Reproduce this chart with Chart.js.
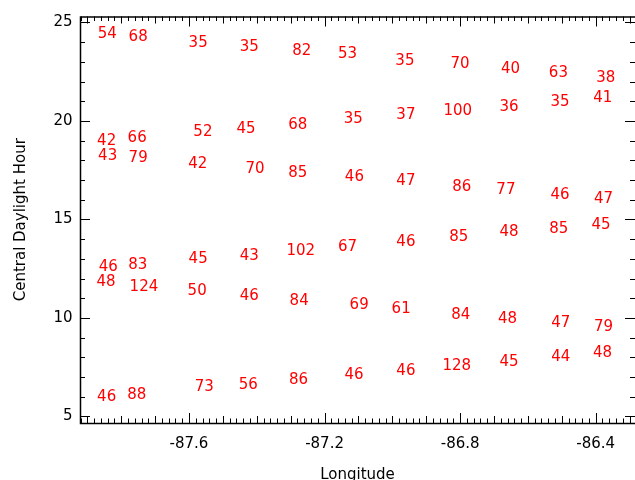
<!DOCTYPE html>
<html>
<head>
<meta charset="utf-8">
<script src="https://cdn.jsdelivr.net/npm/chart.js@4.4.1/dist/chart.umd.min.js"></script>
<style>
  html, body { margin: 0; padding: 0; background: #ffffff; }
  canvas { display: block; }
</style>
</head>
<body>
<canvas id="chart" width="635" height="480"></canvas>
<script>
// Counts written at (longitude, central daylight hour), one set of arrays per band
const lonA   = [-87.841, -87.750, -87.573, -87.422, -87.267, -87.132, -86.963, -86.800, -86.651, -86.510, -86.370];
const hourA  = [24.40, 24.27, 23.97, 23.77, 23.54, 23.37, 23.06, 22.86, 22.61, 22.44, 22.19];
const countA = [54, 68, 35, 35, 82, 53, 35, 70, 40, 63, 38];

const lonB   = [-87.843, -87.753, -87.559, -87.432, -87.279, -87.115, -86.960, -86.807, -86.656, -86.505, -86.379];
const hourB  = [19.00, 19.12, 19.42, 19.59, 19.77, 20.11, 20.31, 20.51, 20.71, 20.98, 21.15];
const countB = [42, 66, 52, 45, 68, 35, 37, 100, 36, 35, 41];

const lonC   = [-87.840, -87.750, -87.574, -87.405, -87.279, -87.112, -86.960, -86.795, -86.665, -86.505, -86.377];
const hourC  = [18.19, 18.09, 17.82, 17.54, 17.37, 17.17, 16.93, 16.65, 16.48, 16.26, 16.04];
const countC = [43, 79, 42, 70, 85, 46, 47, 86, 77, 46, 47];

const lonD   = [-87.838, -87.751, -87.573, -87.422, -87.270, -87.132, -86.960, -86.804, -86.656, -86.509, -86.384];
const hourD  = [12.58, 12.68, 12.97, 13.15, 13.40, 13.59, 13.87, 14.09, 14.34, 14.53, 14.70];
const countD = [46, 83, 45, 43, 102, 67, 46, 85, 48, 85, 45];

const lonE   = [-87.845, -87.733, -87.576, -87.422, -87.275, -87.098, -86.974, -86.798, -86.660, -86.503, -86.377];
const hourE  = [11.82, 11.57, 11.35, 11.12, 10.86, 10.63, 10.43, 10.16, 9.94, 9.72, 9.52];
const countE = [48, 124, 50, 46, 84, 69, 61, 84, 48, 47, 79];

const lonF   = [-87.843, -87.754, -87.555, -87.425, -87.277, -87.113, -86.960, -86.810, -86.656, -86.503, -86.380];
const hourF  = [5.99, 6.11, 6.48, 6.61, 6.87, 7.08, 7.32, 7.54, 7.76, 7.99, 8.21];
const countF = [46, 88, 73, 56, 86, 46, 46, 128, 45, 44, 48];

// Axis ranges and labelled ticks
const lonRange  = [-87.9216, -86.284];
const hourRange = [4.67, 25.30];
const lonTicks  = [-87.6, -87.2, -86.8, -86.4];
const hourTicks = [5, 10, 15, 20, 25];

const FONT = "'DejaVu Sans', 'Liberation Sans', sans-serif";
const LABEL_RED = '#ff0000';

const bands = [
  [lonA, hourA, countA],
  [lonB, hourB, countB],
  [lonC, hourC, countC],
  [lonD, hourD, countD],
  [lonE, hourE, countE],
  [lonF, hourF, countF]
];

const datasets = bands.map(([lons, hours, counts]) => ({
  data: lons.map((lon, i) => ({ x: lon, y: hours[i] })),
  counts: counts,
  pointRadius: 0,
  pointHoverRadius: 0,
  showLine: false
}));

// Writes each count at its point position
const countLabels = {
  id: 'countLabels',
  afterDatasetsDraw(chart) {
    const ctx = chart.ctx;
    ctx.save();
    ctx.font = '15px ' + FONT;
    ctx.fillStyle = LABEL_RED;
    ctx.textAlign = 'center';
    ctx.textBaseline = 'middle';
    chart.data.datasets.forEach((ds, di) => {
      const meta = chart.getDatasetMeta(di);
      meta.data.forEach((pt, i) => {
        ctx.fillText(String(ds.counts[i]), pt.x, pt.y);
      });
    });
    ctx.restore();
  }
};

// Box frame with inward ticks on all four sides
const frameTicks = {
  id: 'frameTicks',
  afterDraw(chart) {
    const ctx = chart.ctx;
    const xs = chart.scales.x, ys = chart.scales.y;
    const { left, right, top, bottom } = chart.chartArea;
    ctx.save();
    ctx.strokeStyle = '#000';
    ctx.lineWidth = 1;
    ctx.beginPath();
    const k0 = Math.ceil(xs.min * 50), k1 = Math.floor(xs.max * 50);
    for (let k = k0; k <= k1; k++) {
      const px = Math.round(xs.getPixelForValue(k / 50)) + 0.5;
      const len = (k % 20 === 0) ? 10 : (k % 5 === 0 ? 7 : 4.5);
      ctx.moveTo(px, bottom); ctx.lineTo(px, bottom - len);
      ctx.moveTo(px, top); ctx.lineTo(px, top + len);
    }
    const j0 = Math.ceil(ys.min), j1 = Math.floor(ys.max);
    for (let j = j0; j <= j1; j++) {
      const py = Math.round(ys.getPixelForValue(j)) + 0.5;
      const len = (j % 5 === 0) ? 10 : 5;
      ctx.moveTo(left, py); ctx.lineTo(left + len, py);
      ctx.moveTo(right, py); ctx.lineTo(right - len, py);
    }
    ctx.stroke();
    ctx.lineWidth = 1.5;
    ctx.strokeRect(left + 0.5, top + 0.5, right - left + 1, bottom - top);
    ctx.restore();
  }
};

new Chart(document.getElementById('chart'), {
  type: 'scatter',
  data: { datasets },
  options: {
    responsive: false,
    animation: false,
    devicePixelRatio: 1,
    layout: { padding: { top: 14, right: 0, bottom: 0, left: 0 } },
    plugins: {
      legend: { display: false },
      tooltip: { enabled: false }
    },
    scales: {
      x: {
        type: 'linear',
        min: lonRange[0],
        max: lonRange[1],
        afterBuildTicks: (scale) => { scale.ticks = lonTicks.map(v => ({ value: v })); },
        afterFit: (scale) => { scale.height = 57; },
        grid: { display: false, drawTicks: false },
        border: { display: false },
        ticks: {
          color: '#000',
          font: { family: FONT, size: 15 },
          padding: 12,
          maxRotation: 0,
          autoSkip: false,
          callback: (v) => v.toFixed(1)
        },
        title: {
          display: true,
          text: 'Longitude',
          color: '#000',
          font: { family: FONT, size: 15, lineHeight: 1 },
          padding: { top: 0, bottom: -3 }
        }
      },
      y: {
        type: 'linear',
        min: hourRange[0],
        max: hourRange[1],
        afterBuildTicks: (scale) => { scale.ticks = hourTicks.map(v => ({ value: v })); },
        afterFit: (scale) => { scale.width = 80; },
        grid: { display: false, drawTicks: false },
        border: { display: false },
        ticks: {
          color: '#000',
          font: { family: FONT, size: 15 },
          padding: 7.5,
          autoSkip: false,
          callback: (v) => String(v)
        },
        title: {
          display: true,
          text: 'Central Daylight Hour',
          color: '#000',
          font: { family: FONT, size: 15 },
          padding: { top: 12, bottom: 0 }
        }
      }
    }
  },
  plugins: [countLabels, frameTicks]
});
</script>
</body>
</html>
